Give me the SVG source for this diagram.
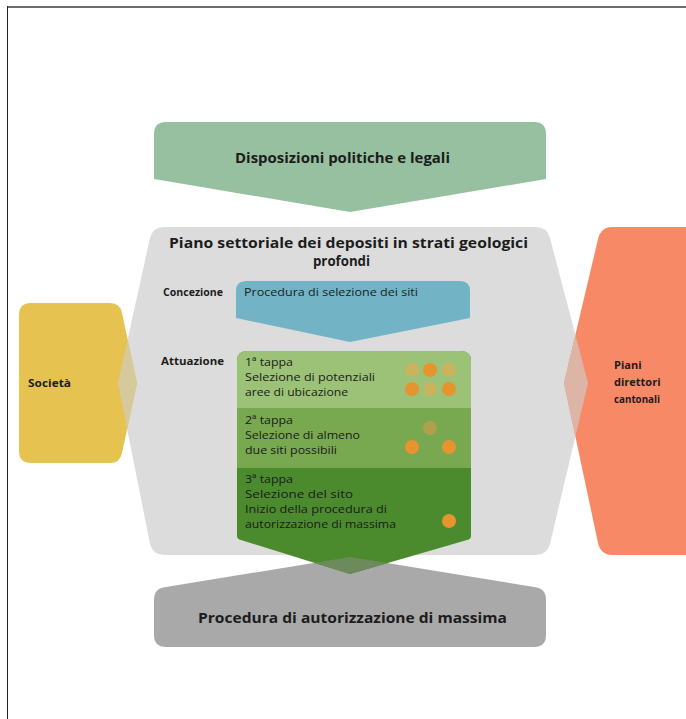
<svg xmlns="http://www.w3.org/2000/svg" xmlns:xlink="http://www.w3.org/1999/xlink" width="686" height="719" viewBox="0 0 686 719">
<style>
.t{font-family:"Open Sans","Noto Sans","Liberation Sans",sans-serif;fill:#1c1c1c}
.big{font-size:14.5px;font-weight:700}
.lbl{font-size:11px;font-weight:700}
.sm{font-size:11px;font-weight:400}
.band{font-size:11.5px;font-weight:400;fill:#1a1a1a}
</style>
<defs>
<path id="grayMid" d="M164,227 L536,227 Q547,227 550,238 L588,383 L550,544 Q547,555 536,555 L164,555 Q153,555 150,544 L118,383 L150,238 Q153,227 164,227 Z"/>
<path id="yellowP" d="M31,303 L110,303 Q120,303 122,313 L137,383 L122,453 Q120,463 110,463 L31,463 Q19,463 19,451 L19,315 Q19,303 31,303 Z"/>
<path id="orangeP" d="M612,227 L700,227 L700,555 L612,555 Q601,555 598,543 L564,383 L598,239 Q601,227 612,227 Z"/>
<path id="grayBot" d="M166,587 L350,557 L534,587 Q546,588 546,600 L546,635 Q546,647 534,647 L166,647 Q154,647 154,635 L154,600 Q154,588 166,587 Z"/>
<path id="stackP" d="M247,351 L461,351 Q471,351 471,361 L471,536 Q471,539 467,540 L350,574 L241,540 Q237,539 237,536 L237,361 Q237,351 247,351 Z"/>
<clipPath id="cGray"><use xlink:href="#grayMid"/></clipPath>
<clipPath id="cStack"><use xlink:href="#stackP"/></clipPath>
<clipPath id="cBot"><use xlink:href="#grayBot"/></clipPath>
</defs>
<rect width="686" height="719" fill="#ffffff"/>
<line x1="7" y1="7" x2="686" y2="7" stroke="#6e6e6e" stroke-width="2"/>
<line x1="7.5" y1="6" x2="7.5" y2="719" stroke="#222" stroke-width="1"/>

<g id="disposizioni">
<path d="M166,122 L534,122 Q546,122 546,134 L546,179 L350,212 L154,179 L154,134 Q154,122 166,122 Z" fill="#96c09f"/>
<text class="t big" x="235" y="163" textLength="215" lengthAdjust="spacingAndGlyphs">Disposizioni politiche e legali</text>
</g>

<g id="piano-settoriale">
<use xlink:href="#grayMid" fill="#dcdcdc"/>
<text class="t big" x="169" y="248" textLength="359" lengthAdjust="spacingAndGlyphs">Piano settoriale dei depositi in strati geologici</text>
<text class="t big" x="313" y="266" textLength="57" lengthAdjust="spacingAndGlyphs">profondi</text>
<text class="t lbl" x="163" y="296" textLength="60" lengthAdjust="spacingAndGlyphs">Concezione</text>
<text class="t lbl" x="161" y="365" textLength="63" lengthAdjust="spacingAndGlyphs">Attuazione</text>
</g>

<g id="societa">
<use xlink:href="#yellowP" fill="#e6c250"/>
<use xlink:href="#yellowP" fill="#d6c99c" clip-path="url(#cGray)"/>
<text class="t lbl" x="28" y="387" textLength="43" lengthAdjust="spacingAndGlyphs">Società</text>
</g>

<g id="piani-direttori">
<use xlink:href="#orangeP" fill="#f88966"/>
<use xlink:href="#orangeP" fill="#dcb5a7" clip-path="url(#cGray)"/>
<text class="t lbl" x="614" y="369">Piani</text>
<text class="t lbl" x="614" y="386">direttori</text>
<text class="t lbl" x="614" y="403" textLength="46" lengthAdjust="spacingAndGlyphs">cantonali</text>
</g>

<g id="procedura-selezione">
<path d="M246,281 L460,281 Q470,281 470,291 L470,318 L350,342 L236,318 L236,291 Q236,281 246,281 Z" fill="#72b4c5"/>
<text class="t sm" x="244" y="296" textLength="174" lengthAdjust="spacingAndGlyphs">Procedura di selezione dei siti</text>
</g>

<g id="procedura-autorizzazione">
<use xlink:href="#grayBot" fill="#a9a9a9"/>
<text class="t big" x="198" y="623" textLength="309" lengthAdjust="spacingAndGlyphs">Procedura di autorizzazione di massima</text>
</g>

<g id="tappe">
<use xlink:href="#stackP" fill="#4b8b2e"/>
<g clip-path="url(#cStack)">
<rect x="230" y="345" width="250" height="63" fill="#9cc277"/>
<rect x="230" y="408" width="250" height="60" fill="#78a84f"/>
</g>
<use xlink:href="#stackP" fill="#6d8a5c" clip-path="url(#cBot)"/>
</g>

<g id="tappa1">
<text class="t band" x="245" y="366" textLength="48" lengthAdjust="spacingAndGlyphs">1ª tappa</text>
<text class="t band" x="245" y="381" textLength="130" lengthAdjust="spacingAndGlyphs">Selezione di potenziali</text>
<text class="t band" x="245" y="396" textLength="103" lengthAdjust="spacingAndGlyphs">aree di ubicazione</text>
<circle cx="412" cy="370" r="7" fill="#cbb25d"/>
<circle cx="430" cy="370" r="7" fill="#e8942e"/>
<circle cx="449" cy="370" r="7" fill="#cbb25d"/>
<circle cx="412" cy="389" r="7" fill="#e8942e"/>
<circle cx="430" cy="389" r="7" fill="#cbb25d"/>
<circle cx="449" cy="389" r="7" fill="#e8942e"/>
</g>

<g id="tappa2">
<text class="t band" x="245" y="424" textLength="48" lengthAdjust="spacingAndGlyphs">2ª tappa</text>
<text class="t band" x="245" y="439" textLength="115" lengthAdjust="spacingAndGlyphs">Selezione di almeno</text>
<text class="t band" x="245" y="454" textLength="92" lengthAdjust="spacingAndGlyphs">due siti possibili</text>
<circle cx="430" cy="428" r="7" fill="#b0a04c"/>
<circle cx="412" cy="447" r="7" fill="#e8942e"/>
<circle cx="449" cy="447" r="7" fill="#e8942e"/>
</g>

<g id="tappa3">
<text class="t band" x="245" y="483" textLength="48" lengthAdjust="spacingAndGlyphs">3ª tappa</text>
<text class="t band" x="245" y="498" textLength="108" lengthAdjust="spacingAndGlyphs">Selezione del sito</text>
<text class="t band" x="245" y="513" textLength="142" lengthAdjust="spacingAndGlyphs">Inizio della procedura di</text>
<text class="t band" x="245" y="528" textLength="151" lengthAdjust="spacingAndGlyphs">autorizzazione di massima</text>
<circle cx="449" cy="521" r="7" fill="#e8942e"/>
</g>

<g id="connectors"></g>
</svg>
